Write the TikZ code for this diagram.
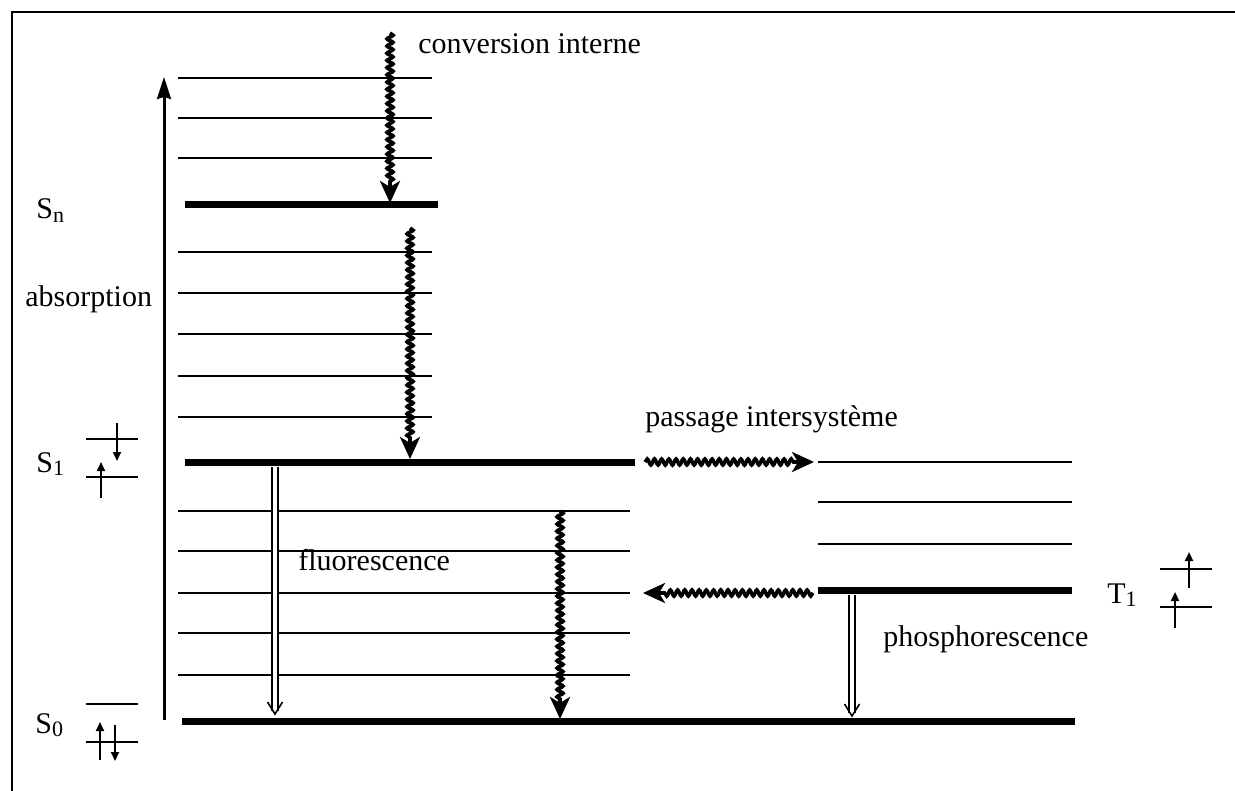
\documentclass[tikz,border=0pt]{standalone}
\usepackage{fontspec}
\setmainfont{Liberation Serif}
\usetikzlibrary{arrows.meta,decorations.pathmorphing,calc}
\newcommand{\lowsub}[1]{{\fontsize{11}{12}\selectfont\raisebox{-1.6pt}{#1}}}
\begin{document}
\begin{tikzpicture}[x=0.5pt,y=-0.5pt,
  thinlevel/.style={line width=1pt},
  thicklevel/.style={line width=3.5pt},
  wavy/.style={line width=1.8pt, decorate,
    decoration={snake, segment length=3.6pt, amplitude=1.5pt, post length=9pt},
    -{Stealth[length=11pt,width=10pt,inset=3pt]}},
  spinarrow/.style={line width=1pt, -{Triangle[length=4.5pt,width=4pt]}},
  spinline/.style={line width=0.9pt},
  dbl/.style={double, line width=0.75pt, double distance=2.2pt},
  tip/.style={line width=0.8pt},
  lbl/.style={font=\fontsize{15}{17}\selectfont, inner sep=0pt, anchor=base west},
  frame/.style={line width=1.2pt}
]
\useasboundingbox (0,0) rectangle (1235,791);
% frame
\coordinate (f1) at (12,791); \coordinate (f2) at (12,12); \coordinate (f3) at (1235,12);
\draw[frame] (f1) -- (f2) -- (f3);

% upper levels (above Sn)
\foreach \y [count=\i] in {78,118,158} {
  \coordinate (ua\i) at (178,\y); \coordinate (ub\i) at (432,\y);
  \draw[thinlevel] (ua\i) -- (ub\i);
}
\coordinate (snA) at (185,205); \coordinate (snB) at (438,205);
\draw[thicklevel] (snA) -- (snB);
% levels between Sn and S1
\foreach \y [count=\i] in {252,293,334,376,417} {
  \coordinate (ma\i) at (178,\y); \coordinate (mb\i) at (432,\y);
  \draw[thinlevel] (ma\i) -- (mb\i);
}
\coordinate (s1A) at (185,462); \coordinate (s1B) at (635,462);
\draw[thicklevel] (s1A) -- (s1B);
% levels between S1 and S0
\foreach \y [count=\i] in {511,551,593,633,675} {
  \coordinate (la\i) at (178,\y); \coordinate (lb\i) at (630,\y);
  \draw[thinlevel] (la\i) -- (lb\i);
}
\coordinate (s0A) at (182,721); \coordinate (s0B) at (1075,721);
\draw[thicklevel] (s0A) -- (s0B);
% triplet levels
\foreach \y [count=\i] in {462,502,544} {
  \coordinate (ta\i) at (818,\y); \coordinate (tb\i) at (1072,\y);
  \draw[thinlevel] (ta\i) -- (tb\i);
}
\coordinate (t1A) at (818,590); \coordinate (t1B) at (1072,590);
\draw[thicklevel] (t1A) -- (t1B);

% absorption arrow
\coordinate (absA) at (164,720); \coordinate (absB) at (164,77);
\draw[line width=1.5pt, -{Stealth[length=11pt,width=7pt,inset=1pt]}] (absA) -- (absB);

% wavy arrows
\coordinate (w1a) at (390,33);  \coordinate (w1b) at (390,203);
\coordinate (w2a) at (410,228); \coordinate (w2b) at (410,459);
\coordinate (w3a) at (560,511); \coordinate (w3b) at (560,719);
\coordinate (w4a) at (645,462); \coordinate (w4b) at (814,462);
\coordinate (w5a) at (813,593); \coordinate (w5b) at (643,593);
\draw[wavy] (w1a) -- (w1b);
\draw[wavy] (w2a) -- (w2b);
\draw[wavy] (w3a) -- (w3b);
\draw[wavy] (w4a) -- (w4b);
\draw[wavy] (w5a) -- (w5b);

% double (radiative) arrows
\coordinate (fa) at (275,467); \coordinate (fb) at (275,714);
\coordinate (pa) at (852,595); \coordinate (pb) at (852,716);
\draw[dbl] (fa) -- ($(fb)+(0,-3)$);
\draw[tip] ($(fb)+(-7.5,-12)$) -- (fb) -- ($(fb)+(7.5,-12)$);
\draw[dbl] (pa) -- ($(pb)+(0,-3)$);
\draw[tip] ($(pb)+(-7.5,-12)$) -- (pb) -- ($(pb)+(7.5,-12)$);

% spin diagrams S1
\coordinate (a1) at (86,439); \coordinate (a2) at (138,439);
\coordinate (a3) at (86,477); \coordinate (a4) at (138,477);
\draw[spinline] (a1) -- (a2); \draw[spinline] (a3) -- (a4);
\coordinate (a5) at (117,423); \coordinate (a6) at (117,461);
\coordinate (a7) at (101,498); \coordinate (a8) at (101,462);
\draw[spinarrow] (a5) -- (a6); \draw[spinarrow] (a7) -- (a8);
% S0
\coordinate (b1) at (86,704); \coordinate (b2) at (138,704);
\coordinate (b3) at (86,742); \coordinate (b4) at (138,742);
\draw[spinline] (b1) -- (b2); \draw[spinline] (b3) -- (b4);
\coordinate (b5) at (100,760); \coordinate (b6) at (100,722);
\coordinate (b7) at (115,725); \coordinate (b8) at (115,761);
\draw[spinarrow] (b5) -- (b6); \draw[spinarrow] (b7) -- (b8);
% T1
\coordinate (c1) at (1160,569); \coordinate (c2) at (1212,569);
\coordinate (c3) at (1160,607); \coordinate (c4) at (1212,607);
\draw[spinline] (c1) -- (c2); \draw[spinline] (c3) -- (c4);
\coordinate (c5) at (1189,588); \coordinate (c6) at (1189,552);
\coordinate (c7) at (1175,628); \coordinate (c8) at (1175,592);
\draw[spinarrow] (c5) -- (c6); \draw[spinarrow] (c7) -- (c8);

% labels
\node[lbl] (lci) at (418,54) {conversion interne};
\node[lbl] (labs) at (25,306) {absorption};
\node[lbl] (lsn) at (36,219) {S\lowsub{n}};
\node[lbl] (ls1) at (36,472) {S\lowsub{1}};
\node[lbl] (ls0) at (35,733) {S\lowsub{0}};
\node[lbl] (lt1) at (1107,603) {T\lowsub{1}};
\node[lbl] (lpi) at (645,426) {passage intersystème};
\node[lbl] (lfl) at (298,570) {fluorescence};
\node[lbl] (lph) at (883,646) {phosphorescence};
\end{tikzpicture}
\end{document}
